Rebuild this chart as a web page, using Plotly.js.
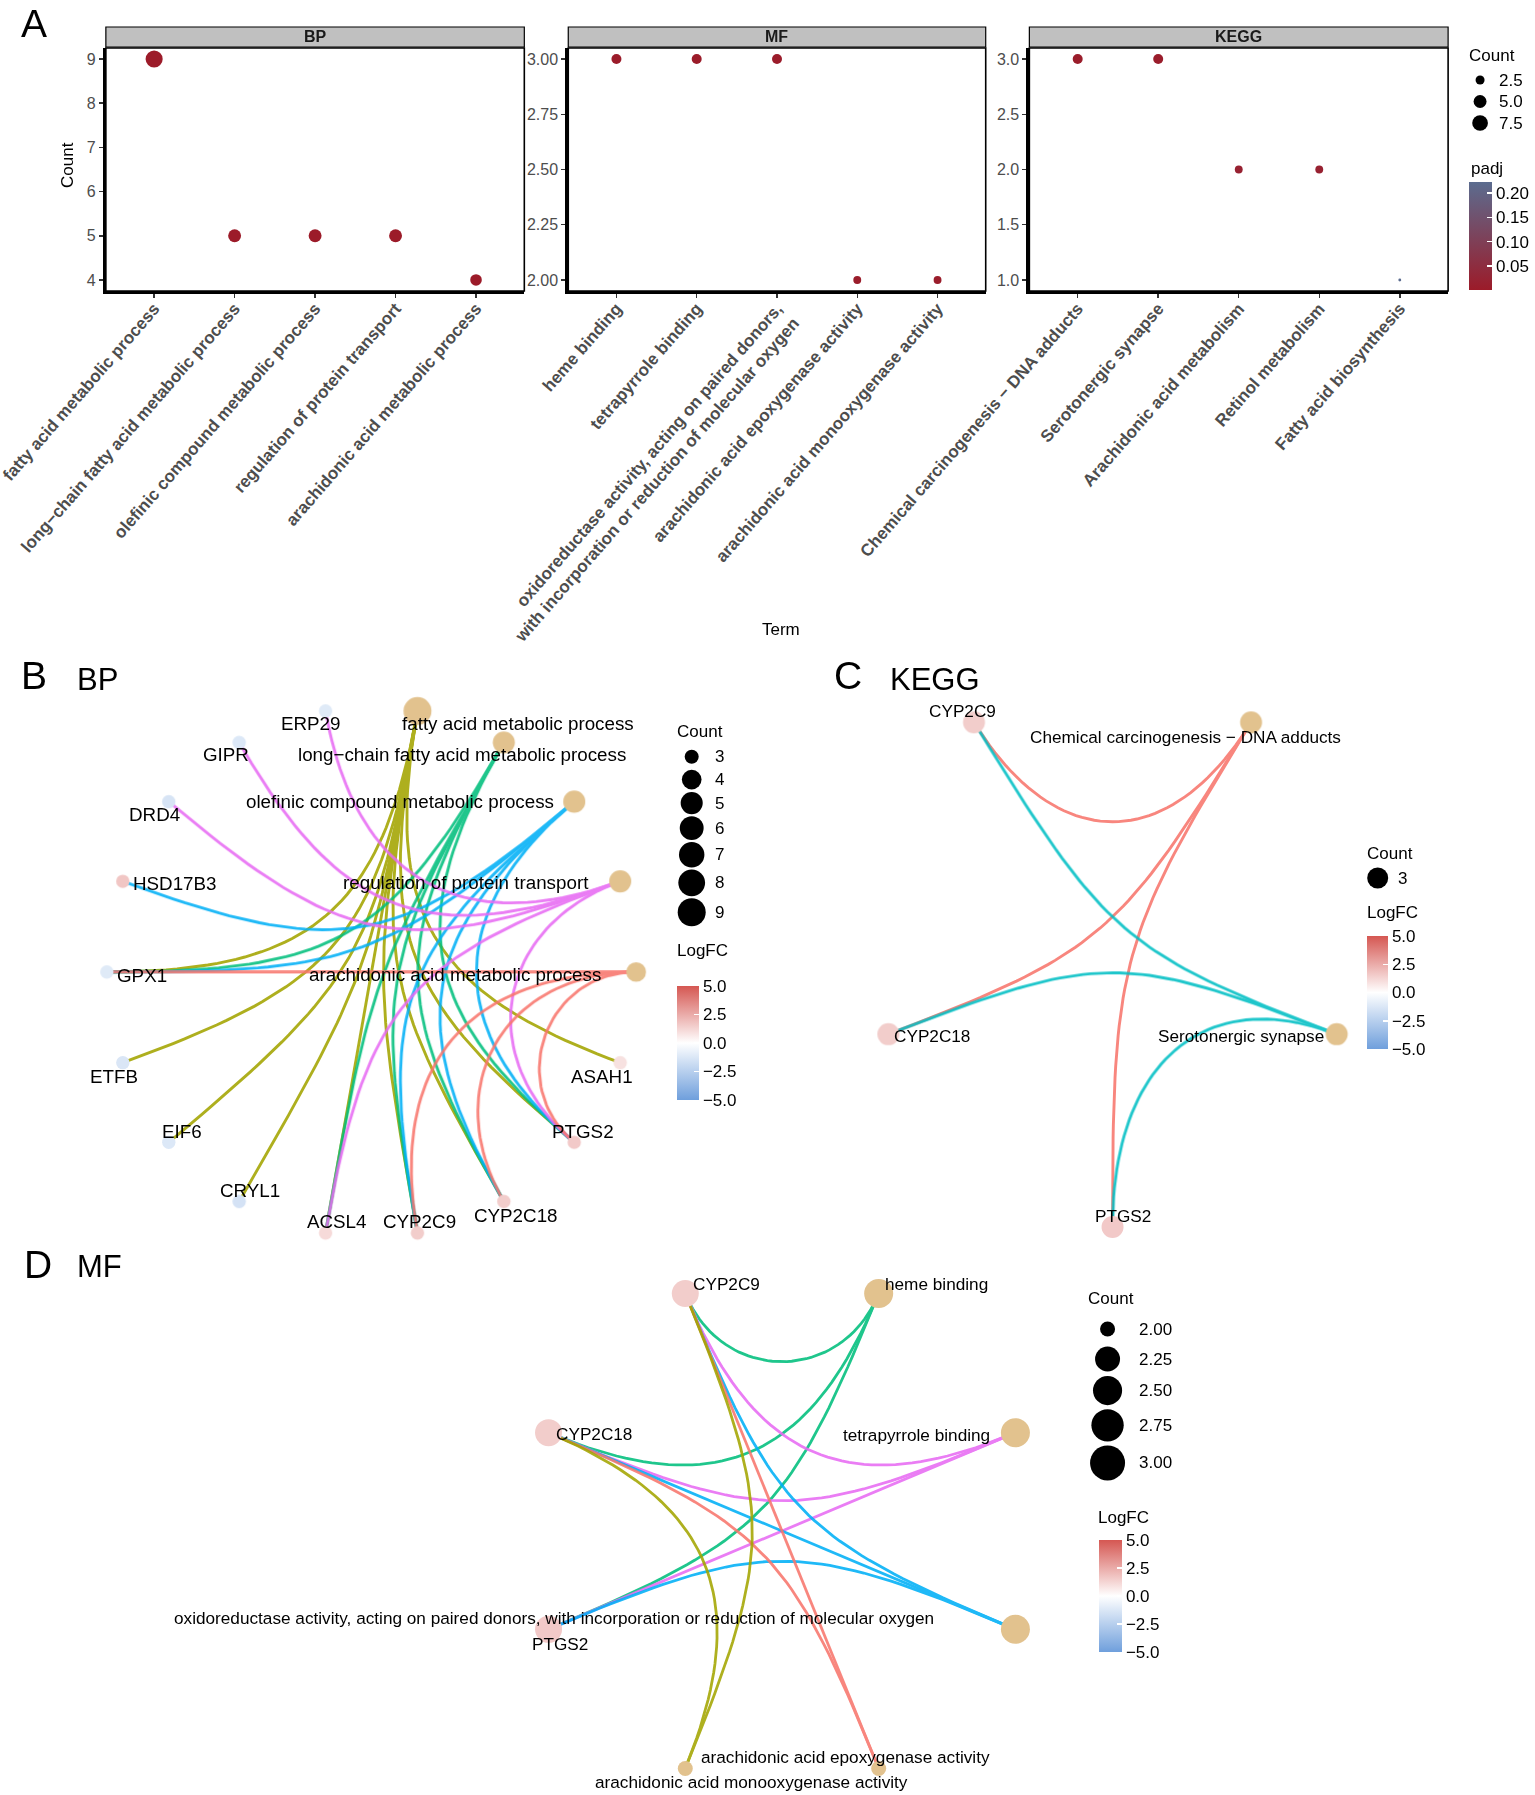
<!DOCTYPE html>
<html><head><meta charset="utf-8">
<script src="https://cdn.plot.ly/plotly-3.0.1.min.js"></script>
<style>body{margin:0;background:#fff}</style>
</head><body>
<div id="chart" style="width:1535px;height:1795px"></div>
<script>
// ================= DATA =================
const bpTerms = ["fatty acid metabolic process","long−chain fatty acid metabolic process","olefinic compound metabolic process","regulation of protein transport","arachidonic acid metabolic process"];
const bpCount = [9,5,5,5,4];
const bpPadj  = [0.0006,0.0010,0.0011,0.0012,0.0014];
const bpTicks = [4,5,6,7,8,9];

const mfTerms = ["heme binding","tetrapyrrole binding","oxidoreductase activity, acting on paired donors, with incorporation or reduction of molecular oxygen","arachidonic acid epoxygenase activity","arachidonic acid monooxygenase activity"];
const mfCount = [3,3,3,2,2];
const mfPadj  = [0.003,0.003,0.004,0.006,0.006];
const mfTicks = [2.00,2.25,2.50,2.75,3.00];

const keggTerms = ["Chemical carcinogenesis − DNA adducts","Serotonergic synapse","Arachidonic acid metabolism","Retinol metabolism","Fatty acid biosynthesis"];
const keggCount = [3,3,2,2,1];
const keggPadj  = [0.006,0.006,0.018,0.018,0.2226];
const keggTicks = [1.0,1.5,2.0,2.5,3.0];

const padjTicks = [0.05,0.10,0.15,0.20];
const aLegendCounts = [2.5,5.0,7.5];

// gene fold changes
const geneNames = ["ERP29","GIPR","DRD4","HSD17B3","GPX1","ETFB","EIF6","CRYL1","ACSL4","CYP2C9","CYP2C18","PTGS2","ASAH1"];
const geneLogFC = [-1.1,-1.2,-1.4,1.7,-1.1,-1.3,-1.2,-1.5,1.1,1.5,1.5,1.6,0.9];

// network B (BP)
const bpNetGenes = ["ASAH1","PTGS2","CYP2C18","CYP2C9","ACSL4","CRYL1","EIF6","ETFB","GPX1","HSD17B3","DRD4","GIPR","ERP29"];
const bpSets = [
  ["GPX1","ETFB","EIF6","CRYL1","ACSL4","CYP2C9","CYP2C18","PTGS2","ASAH1"],
  ["GPX1","ACSL4","CYP2C9","CYP2C18","PTGS2"],
  ["HSD17B3","GPX1","CYP2C9","CYP2C18","PTGS2"],
  ["ERP29","GIPR","DRD4","ACSL4","PTGS2"],
  ["GPX1","CYP2C9","CYP2C18","PTGS2"]
];
const bpLegendCounts = [3,4,5,6,7,8,9];

// network C (KEGG)
const keggNetCats = ["Chemical carcinogenesis − DNA adducts","Serotonergic synapse"];
const keggNetGenes = ["PTGS2","CYP2C18","CYP2C9"];
const keggSets = [["CYP2C9","CYP2C18","PTGS2"],["CYP2C9","CYP2C18","PTGS2"]];
const keggLegendCounts = [3];

// network D (MF)
const mfNetGenes = ["PTGS2","CYP2C18","CYP2C9"];
const mfSets = [
  ["CYP2C9","CYP2C18","PTGS2"],
  ["CYP2C9","CYP2C18","PTGS2"],
  ["CYP2C9","CYP2C18","PTGS2"],
  ["CYP2C9","CYP2C18"],
  ["CYP2C9","CYP2C18"]
];
const mfLegendCounts = [2.00,2.25,2.50,2.75,3.00];

const logfcTicks = [5,2.5,0,-2.5,-5];

// ================= STYLE / LAYOUT =================
const W = 1535, H = 1795;
const FONT = '"Liberation Sans", Arial, Helvetica, sans-serif';
const HUE5 = ['#F8766D','#A3A500','#00BF7D','#00B0F6','#E76BF3'];
const HUE2 = ['#F8766D','#00BFC4'];
const CAT_COL = '#E2C28E';
const LOGFC_SCALE = [[0,'#6F9FDC'],[0.5,'#FFFFFF'],[1,'#D55752']];

const traces = [], annotations = [], shapes = [];
const layout = {
  width: W, height: H, margin:{l:0,r:0,t:0,b:0},
  paper_bgcolor:'#ffffff', plot_bgcolor:'rgba(0,0,0,0)',
  showlegend:false, font:{family:FONT, color:'#000'},
  annotations, shapes,
  xaxis7:{domain:[0,1], range:[0,W], visible:false, fixedrange:true, anchor:'y7'},
  yaxis7:{domain:[0,1], range:[H,0], visible:false, fixedrange:true, anchor:'x7'}
};
function txt(x,y,text,opts){
  annotations.push(Object.assign({xref:'x7', yref:'y7', x:x, y:y, text:text, showarrow:false,
    xanchor:'center', yanchor:'middle', font:{family:FONT,size:17,color:'#000'}}, opts||{}));
}
function wrap(s,w){
  const words = s.split(' '); const lines=[]; let cur='';
  words.forEach(wd=>{ if(cur && (cur+' '+wd).length>w){ lines.push(cur); cur=wd; } else cur = cur ? cur+' '+wd : wd; });
  if(cur) lines.push(cur); return lines.join('<br>');
}
const fmtMinus = s => s.replace('-','−');

// ---------- Panel A ----------
const allCount = bpCount.concat(mfCount, keggCount);
const allPadj = bpPadj.concat(mfPadj, keggPadj);
const cMin = Math.min(...allCount), cMax = Math.max(...allCount);
const sizeA = c => 2.85*(1 + 5*Math.sqrt(Math.max(0,(c-cMin)/(cMax-cMin))));

const facets = [
  {name:'BP', terms:bpTerms, count:bpCount, padj:bpPadj, ticks:bpTicks, dec:0, box:[106,525,48,291]},
  {name:'MF', terms:mfTerms, count:mfCount, padj:mfPadj, ticks:mfTicks, dec:2, box:[569,987,48,291]},
  {name:'KEGG', terms:keggTerms, count:keggCount, padj:keggPadj, ticks:keggTicks, dec:1, box:[1030.7,1450,48,291]}
];
facets.forEach((f,i)=>{
  const sfx = i ? String(i+1) : '';
  const xr = 'x'+sfx, yr = 'y'+sfx;
  const [x0,x1,y0,y1] = f.box;
  const lo = Math.min(...f.count), hi = Math.max(...f.count), pad = 0.05*(hi-lo);
  const idx = f.terms.map((t,j)=>j);
  layout['xaxis'+sfx] = {domain:[x0/W,x1/W], anchor:yr, range:[-0.6, f.terms.length-0.4],
    tickmode:'array', tickvals:idx, ticktext:f.terms.map(t=>'<b>'+wrap(t,52)+'</b>'),
    tickangle:-49, tickfont:{family:FONT,size:17,color:'#4D4D4D'}, ticklabeloverflow:'allow',
    ticklabelstandoff:-6,
    ticks:'outside', ticklen:4, tickwidth:1.5, tickcolor:'#333',
    showline:true, linewidth:3, linecolor:'#000', showgrid:false, zeroline:false, fixedrange:true};
  layout['yaxis'+sfx] = {domain:[1-y1/H,1-y0/H], anchor:xr, range:[lo-pad, hi+pad],
    tickmode:'array', tickvals:f.ticks, ticktext:f.ticks.map(v=>v.toFixed(f.dec)),
    tickfont:{family:FONT,size:16,color:'#4D4D4D'}, ticklabeloverflow:'allow',
    ticks:'outside', ticklen:4, tickwidth:1.5, tickcolor:'#333',
    showline:true, linewidth:3, linecolor:'#000', showgrid:false, zeroline:false, fixedrange:true};
  shapes.push({type:'rect', xref:xr+' domain', yref:yr+' domain', x0:0,x1:1,y0:0,y1:1, line:{color:'#000',width:1.6}});
  shapes.push({type:'rect', xref:xr+' domain', yref:'paper', x0:0,x1:1, y0:1-47/H, y1:1-27/H, fillcolor:'#C0C0C0', line:{color:'#000',width:1.2}});
  annotations.push({xref:xr+' domain', yref:'paper', x:0.5, y:1-37/H, text:'<b>'+f.name+'</b>', showarrow:false,
    xanchor:'center', yanchor:'middle', font:{family:FONT,size:16,color:'#1A1A1A'}});
  traces.push({type:'scatter', mode:'markers', x:idx, y:f.count, xaxis:xr, yaxis:yr,
    marker:{size:f.count.map(sizeA), color:f.padj, coloraxis:'coloraxis', opacity:1, line:{width:0}},
    cliponaxis:false, hoverinfo:'skip'});
});
layout.coloraxis = {cmin:Math.min(...allPadj), cmax:Math.max(...allPadj),
  colorscale:[[0,'#9C1B29'],[1,'#5B6C8F']],
  colorbar:{x:1471/W, xanchor:'left', y:1-182/H, yanchor:'top', len:108, lenmode:'pixels',
    thickness:23, thicknessmode:'pixels', xpad:0, ypad:0, outlinewidth:0,
    tickmode:'array', tickvals:padjTicks, ticktext:padjTicks.map(v=>v.toFixed(2)),
    ticks:'inside', ticklen:5, tickcolor:'#fff', tickwidth:1.5,
    tickfont:{family:FONT,size:17,color:'#000'}}};

txt(34,23,'A',{font:{family:FONT,size:39,color:'#000'}});
txt(67,165,'Count',{textangle:-90});
txt(782,629,'Term');
txt(1494,55,'Count');
txt(1471,168,'padj',{xanchor:'left'});

function sizeLegend(o){
  let y = o.y0, prevH = null; const xs=[], ys=[], ss=[];
  o.values.forEach(v=>{
    const d = o.sizeFn(v); const h = Math.max(o.keyMin, d + o.keyPad);
    if(prevH!==null) y += (prevH+h)/2; prevH = h;
    xs.push(o.cx); ys.push(y); ss.push(d);
    txt(o.labelX, y, o.fmt(v), {xanchor:'left'});
  });
  traces.push({type:'scatter', mode:'markers', x:xs, y:ys, xaxis:'x7', yaxis:'y7',
    marker:{size:ss, color:'#000', opacity:1, line:{width:0}}, hoverinfo:'skip', cliponaxis:false});
}
sizeLegend({values:aLegendCounts, sizeFn:sizeA, cx:1482, y0:80, keyMin:21.5, keyPad:2, labelX:1499, fmt:v=>v.toFixed(1)});

// ---------- Networks ----------
function arcPts(A,B){
  const L = Math.hypot(A[0]-B[0], A[1]-B[1]); const k = 1 - L/2;
  const P1=[A[0]*k,A[1]*k], P2=[B[0]*k,B[1]*k]; const out=[];
  for(let i=0;i<=48;i++){ const t=i/48, u=1-t;
    out.push([u*u*u*A[0]+3*u*u*t*P1[0]+3*u*t*t*P2[0]+t*t*t*B[0],
              u*u*u*A[1]+3*u*u*t*P1[1]+3*u*t*t*P2[1]+t*t*t*B[1]]); }
  return out;
}
function network(c){
  const nodes = c.cats.concat(c.genes); const n = nodes.length; const pos = {};
  nodes.forEach((nm,i)=>{ const th=(i+0.5)*2*Math.PI/n; pos[nm]=[Math.sin(th), Math.cos(th)]; });
  const bx0 = Math.max(0, c.cx-1.35*c.rx), bx1 = Math.min(W, c.cx+1.35*c.rx);
  const by0 = Math.max(0, c.cy-1.35*c.ry), by1 = Math.min(H, c.cy+1.35*c.ry);
  const s = c.ax.slice(1);
  layout['xaxis'+s] = {domain:[bx0/W,bx1/W], range:[(bx0-c.cx)/c.rx,(bx1-c.cx)/c.rx], anchor:'y'+s, visible:false, fixedrange:true};
  layout['yaxis'+s] = {domain:[1-by1/H,1-by0/H], range:[(c.cy-by1)/c.ry,(c.cy-by0)/c.ry], anchor:'x'+s, visible:false, fixedrange:true};
  const alpha = c.cats.slice().sort((a,b)=>a.localeCompare(b));
  c.cats.forEach((cat,ci)=>{
    const col = c.palette[alpha.indexOf(cat)]; const xs=[], ys=[];
    c.sets[ci].forEach(g=>{ arcPts(pos[cat],pos[g]).forEach(p=>{xs.push(p[0]); ys.push(p[1]);}); xs.push(null); ys.push(null); });
    traces.push({type:'scatter', mode:'lines', x:xs, y:ys, xaxis:c.ax, yaxis:'y'+s,
      line:{color:col, width:c.lineW}, opacity:0.88, hoverinfo:'skip', cliponaxis:false});
  });
  traces.push({type:'scatter', mode:'markers', x:c.cats.map(k=>pos[k][0]), y:c.cats.map(k=>pos[k][1]),
    xaxis:c.ax, yaxis:'y'+s, marker:{size:c.sets.map(st=>c.catSize(st.length)), color:CAT_COL, opacity:1, line:{width:0}},
    hoverinfo:'skip', cliponaxis:false});
  traces.push({type:'scatter', mode:'markers', x:c.genes.map(k=>pos[k][0]), y:c.genes.map(k=>pos[k][1]),
    xaxis:c.ax, yaxis:'y'+s, marker:{size:c.geneSize, color:c.genes.map(g=>geneLogFC[geneNames.indexOf(g)]),
    coloraxis:c.caxis, opacity:1, line:{width:0}}, hoverinfo:'skip', cliponaxis:false});
  nodes.forEach(nm=>{ const o = c.offsets[nm] || [0,0];
    annotations.push({xref:c.ax, yref:'y'+s, x:pos[nm][0], y:pos[nm][1], xshift:o[0], yshift:-o[1],
      text:nm, showarrow:false, xanchor:'center', yanchor:'middle', font:{family:FONT,size:c.fontSize,color:'#000'}}); });
}
function logfcAxis(x0,x1,y0,y1){
  return {cmin:-5, cmax:5, colorscale:LOGFC_SCALE,
    colorbar:{x:x0/W, xanchor:'left', y:1-y0/H, yanchor:'top', len:y1-y0, lenmode:'pixels',
      thickness:x1-x0, thicknessmode:'pixels', xpad:0, ypad:0, outlinewidth:0,
      tickmode:'array', tickvals:logfcTicks, ticktext:logfcTicks.map(v=>fmtMinus(v.toFixed(1))),
      ticks:'inside', ticklen:5, tickcolor:'#fff', tickwidth:1.5,
      tickfont:{family:FONT,size:17,color:'#000'}}};
}

// label offsets (px, +x right, +y down) relative to node centres
const bpOffsets = {
  "fatty acid metabolic process":[101,12], "long−chain fatty acid metabolic process":[-42,12],
  "olefinic compound metabolic process":[-174,0], "regulation of protein transport":[-154,1],
  "arachidonic acid metabolic process":[-181,2], "ASAH1":[-18,14], "PTGS2":[9,-11], "CYP2C18":[12,14],
  "CYP2C9":[2,-11], "ACSL4":[11,-11], "CRYL1":[11,-11], "EIF6":[13,-11], "ETFB":[-9,14],
  "GPX1":[35,3], "HSD17B3":[52,2], "DRD4":[-14,13], "GIPR":[-13,12], "ERP29":[-15,12]
};
const keggOffsets = {"CYP2C9":[-12,-11], "Chemical carcinogenesis − DNA adducts":[-66,15], "CYP2C18":[44,2],
  "Serotonergic synapse":[-96,2], "PTGS2":[10,-11]};
const mfOffsets = {"CYP2C9":[41,-9.5], "heme binding":[58,-9.5], "CYP2C18":[45,1], "tetrapyrrole binding":[-99,2],
  "oxidoreductase activity, acting on paired donors, with incorporation or reduction of molecular oxygen":[-461,-11],
  "PTGS2":[11,15], "arachidonic acid epoxygenase activity":[-33,-11], "arachidonic acid monooxygenase activity":[66,13.5]};

const bSize = c => 14 + 14*Math.sqrt((c-3)/6);
network({cats:bpTerms, genes:bpNetGenes, sets:bpSets, ax:'x4', cx:372, cy:972, rx:265, ry:265,
  catSize:bSize, geneSize:13.4, caxis:'coloraxis2', offsets:bpOffsets, palette:HUE5, lineW:2.9, fontSize:18.8});
network({cats:keggNetCats, genes:keggNetGenes, sets:keggSets, ax:'x5', cx:1114, cy:948, rx:236, ry:279,
  catSize:()=>22, geneSize:22, caxis:'coloraxis3', offsets:keggOffsets, palette:HUE2, lineW:2.9, fontSize:17.2});
network({cats:mfTerms, genes:mfNetGenes, sets:mfSets, ax:'x6', cx:783, cy:1531, rx:253, ry:257,
  catSize:c=>15 + 14*Math.sqrt(c-2), geneSize:27, caxis:'coloraxis4', offsets:mfOffsets, palette:HUE5, lineW:2.8, fontSize:17.2});

layout.coloraxis2 = logfcAxis(678,700,986,1100);
layout.coloraxis3 = logfcAxis(1369,1390,936,1049);
layout.coloraxis4 = logfcAxis(1100,1123,1540,1652);

// legends for networks
txt(701,731,'Count');
sizeLegend({values:bpLegendCounts, sizeFn:bSize, cx:692.6, y0:756.7, keyMin:22.9, keyPad:2, labelX:714, fmt:v=>String(v)});
txt(703,950,'LogFC');
txt(1392,853,'Count');
sizeLegend({values:keggLegendCounts, sizeFn:()=>21, cx:1379.5, y0:878, keyMin:22, keyPad:2, labelX:1398, fmt:v=>String(v)});
txt(1394,912,'LogFC');
txt(1112,1298,'Count');
sizeLegend({values:mfLegendCounts, sizeFn:c=>15 + 20*Math.sqrt(c-2), cx:1109, y0:1329, keyMin:30, keyPad:4, labelX:1138, fmt:v=>v.toFixed(2)});
txt(1125,1517,'LogFC');

// panel letters & titles
txt(34,675,'B',{font:{family:FONT,size:39,color:'#000'}});
txt(98,679,'BP',{font:{family:FONT,size:31,color:'#000'}});
txt(849,675,'C',{font:{family:FONT,size:39,color:'#000'}});
txt(936,679,'KEGG',{font:{family:FONT,size:31,color:'#000'}});
txt(38,1264,'D',{font:{family:FONT,size:39,color:'#000'}});
txt(100,1266,'MF',{font:{family:FONT,size:31,color:'#000'}});

Plotly.newPlot('chart', traces, layout, {staticPlot:true, displayModeBar:false});
</script>
</body></html>
